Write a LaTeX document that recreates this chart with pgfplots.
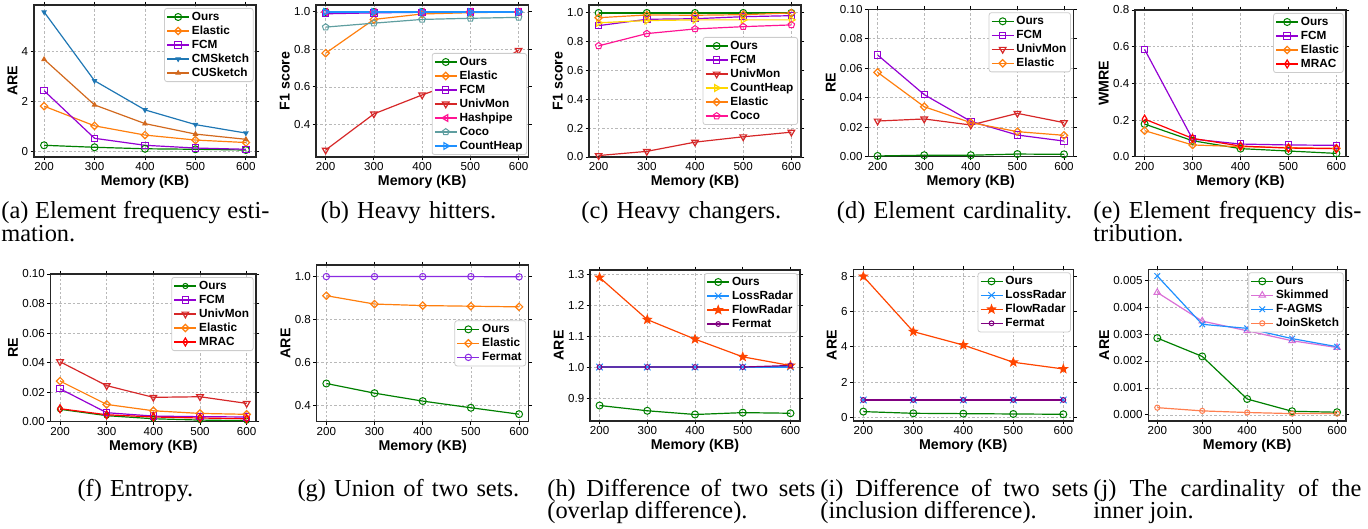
\documentclass[border=0pt]{standalone}
\usepackage{fontspec}
\setmainfont{Liberation Serif}
\setsansfont{Liberation Sans}
\usepackage{pgfplots}
\pgfplotsset{compat=1.18}
\usetikzlibrary{plotmarks}

\definecolor{cOurs}{RGB}{0,128,0}
\definecolor{cElastic}{RGB}{255,127,14}
\definecolor{cFCM}{RGB}{148,0,211}
\definecolor{cUniv}{RGB}{214,39,40}
\definecolor{cCM}{RGB}{31,119,180}
\definecolor{cCU}{RGB}{210,105,30}
\definecolor{cHash}{RGB}{255,20,147}
\definecolor{cCocoB}{RGB}{95,158,160}
\definecolor{cDodger}{RGB}{30,144,255}
\definecolor{cGold}{RGB}{255,215,0}
\definecolor{cMRAC}{RGB}{255,0,0}
\definecolor{cFlow}{RGB}{255,69,0}
\definecolor{cPurple}{RGB}{128,0,128}
\definecolor{cBViolet}{RGB}{138,43,226}
\definecolor{cOrchid}{RGB}{218,112,214}
\definecolor{cCoral}{RGB}{255,127,80}

% filled five-point star
\pgfdeclareplotmark{fstar}{%
  \pgfpathmoveto{\pgfpointpolar{90}{\pgfplotmarksize}}%
  \pgfpathlineto{\pgfpointpolar{126}{0.42\pgfplotmarksize}}%
  \pgfpathlineto{\pgfpointpolar{162}{\pgfplotmarksize}}%
  \pgfpathlineto{\pgfpointpolar{198}{0.42\pgfplotmarksize}}%
  \pgfpathlineto{\pgfpointpolar{234}{\pgfplotmarksize}}%
  \pgfpathlineto{\pgfpointpolar{270}{0.42\pgfplotmarksize}}%
  \pgfpathlineto{\pgfpointpolar{306}{\pgfplotmarksize}}%
  \pgfpathlineto{\pgfpointpolar{342}{0.42\pgfplotmarksize}}%
  \pgfpathlineto{\pgfpointpolar{18}{\pgfplotmarksize}}%
  \pgfpathlineto{\pgfpointpolar{54}{0.42\pgfplotmarksize}}%
  \pgfpathclose\pgfusepathqfillstroke}

\pgfplotsset{
  sub/.style={
    scale only axis,
    axis line style={line width=0.7pt, black!85},
    xmin=180, xmax=620, xtick={200,300,400,500,600},
    grid=major,
    grid style={gray!55, line width=0.35pt, dash pattern=on 1.2pt off 1pt},
    tick align=outside, major tick length=1.7pt,
    tick style={black, line width=0.45pt},
    tick label style={font=\sffamily\fontsize{5.8}{6}\selectfont, inner sep=1pt},
    /pgf/number format/assume math mode=true,
    scaled y ticks=false,
    xlabel={Memory (KB)},
    label style={font=\sffamily\bfseries\fontsize{7.1}{8}\selectfont, inner sep=1pt},
    every axis plot/.append style={line width=0.6pt, mark options={solid, line width=0.5pt, fill=none}},
    legend cell align=left,
    legend image code/.code={\draw[mark repeat=2,mark phase=2] plot coordinates {(0pt,0pt) (5.5pt,0pt) (11pt,0pt)};},
    legend style={draw=black!20, rounded corners=1.2pt, fill=white,
      font=\sffamily\bfseries\fontsize{5.9}{6}\selectfont,
      inner xsep=1pt, inner ysep=0.8pt, row sep=0pt,
      nodes={text height=4.3pt, text depth=1.2pt, inner ysep=0.75pt, inner xsep=1.1pt}},
  },
  ne/.style={legend style={at={(1,1)}, anchor=north east, xshift=-1.2pt, yshift=-1.5pt}},
  sOurs/.style={color=cOurs, mark=o, mark size=1.75pt},
  sElastic/.style={color=cElastic, mark=square, mark size=1.3pt, mark options={rotate=45}},
  sFCM/.style={color=cFCM, mark=square, mark size=1.6pt},
  sUniv/.style={color=cUniv, mark=triangle, mark size=1.9pt, mark options={rotate=180}},
  sMRAC/.style={color=cMRAC, mark=diamond, mark size=2pt, mark options={xscale=0.8}},
  d1/.style={/pgf/number format/.cd, fixed, fixed zerofill, precision=1},
  d2/.style={/pgf/number format/.cd, fixed, fixed zerofill, precision=2},
  d3/.style={/pgf/number format/.cd, fixed, fixed zerofill, precision=3},
}

\begin{document}
\begin{tikzpicture}
\useasboundingbox (0,0) rectangle (684pt,-264.5pt);

% (a)
\begin{axis}[sub, ne, at={(17pt,-78.5pt)}, anchor=south west, width=111pt, height=76pt,
  ymin=-0.24, ymax=5.86, ytick={0,2,4}, ylabel={ARE}]
\addplot[sOurs] coordinates {(200,0.23)(300,0.15)(400,0.09)(500,0.07)(600,0.04)};
\addplot[sElastic] coordinates {(200,1.80)(300,1.01)(400,0.64)(500,0.44)(600,0.34)};
\addplot[sFCM] coordinates {(200,2.42)(300,0.51)(400,0.23)(500,0.12)(600,0.07)};
\addplot[color=cCM, mark=triangle*, mark size=1.1pt, mark options={rotate=180, fill=cCM}] coordinates {(200,5.58)(300,2.82)(400,1.65)(500,1.06)(600,0.72)};
\addplot[color=cCU, mark=triangle*, mark size=1.1pt, mark options={fill=cCU}] coordinates {(200,3.68)(300,1.85)(400,1.10)(500,0.68)(600,0.47)};
\legend{Ours,Elastic,FCM,CMSketch,CUSketch}
\end{axis}

% (b)
\begin{axis}[sub, at={(158pt,-78.5pt)}, anchor=south west, width=106.15pt, height=76pt,
  ymin=0.226, ymax=1.037, ytick={0.4,0.6,0.8,1.0}, yticklabel style={d1}, ylabel={F1 score},
  legend style={at={(1,0)}, anchor=south east, xshift=-0.6pt, yshift=1pt}]
\addplot[sOurs] coordinates {(200,1.0)(300,1.0)(400,1.0)(500,1.0)(600,1.0)};
\addplot[sElastic] coordinates {(200,0.78)(300,0.96)(400,0.989)(500,0.996)(600,1.0)};
\addplot[sFCM] coordinates {(200,0.99)(300,0.995)(400,0.998)(500,0.999)(600,0.999)};
\addplot[sUniv] coordinates {(200,0.263)(300,0.456)(400,0.557)(500,0.65)(600,0.795)};
\addplot[color=cHash, mark=triangle, mark size=1.9pt, mark options={rotate=90}] coordinates {(200,1.0)(300,1.0)(400,1.0)(500,1.0)(600,1.0)};
\addplot[color=cCocoB, mark=pentagon, mark size=1.7pt] coordinates {(200,0.919)(300,0.94)(400,0.96)(500,0.966)(600,0.971)};
\addplot[color=cDodger, mark=triangle, mark size=1.9pt, mark options={rotate=-90}] coordinates {(200,1.0)(300,1.0)(400,1.0)(500,1.0)(600,1.0)};
\legend{Ours,Elastic,FCM,UnivMon,Hashpipe,Coco,CountHeap}
\end{axis}

% (c)
\begin{axis}[sub, at={(294.5pt,-78.5pt)}, anchor=south west, width=106pt, height=76pt,
  ymin=0, ymax=1.053, ytick={0,0.2,0.4,0.6,0.8,1.0}, yticklabel style={d1}, ylabel={F1 score},
  legend style={at={(1,0.5)}, anchor=east, xshift=-1.5pt}]
\addplot[sOurs] coordinates {(200,0.998)(300,0.998)(400,0.998)(500,0.998)(600,0.998)};
\addplot[sFCM] coordinates {(200,0.91)(300,0.954)(400,0.958)(500,0.972)(600,0.979)};
\addplot[sUniv] coordinates {(200,0.01)(300,0.039)(400,0.103)(500,0.14)(600,0.172)};
\addplot[color=cGold, mark=triangle, mark size=1.9pt, mark options={rotate=-90}] coordinates {(200,0.93)(300,0.945)(400,0.95)(500,0.95)(600,0.95)};
\addplot[sElastic] coordinates {(200,0.965)(300,0.984)(400,0.982)(500,0.986)(600,0.998)};
\addplot[color=cHash, mark=pentagon, mark size=1.7pt] coordinates {(200,0.77)(300,0.855)(400,0.887)(500,0.903)(600,0.915)};
\legend{Ours,FCM,UnivMon,CountHeap,Elastic,Coco}
\end{axis}

% (d)
\begin{axis}[sub, ne, at={(434.15pt,-78.35pt)}, anchor=south west, width=102.5pt, height=73.7pt,
  ymin=0, ymax=0.1, ytick={0,0.02,0.04,0.06,0.08,0.10}, yticklabel style={d2}, ylabel={RE}]
\addplot[sOurs] coordinates {(200,0.0005)(300,0.001)(400,0.001)(500,0.0018)(600,0.0016)};
\addplot[sFCM] coordinates {(200,0.069)(300,0.0421)(400,0.024)(500,0.0147)(600,0.0106)};
\addplot[sUniv] coordinates {(200,0.0242)(300,0.0256)(400,0.0215)(500,0.0294)(600,0.0231)};
\addplot[sElastic] coordinates {(200,0.0572)(300,0.0339)(400,0.0231)(500,0.017)(600,0.0145)};
\legend{Ours,FCM,UnivMon,Elastic}
\end{axis}

% (e)
\begin{axis}[sub, ne, at={(567.5pt,-78.35pt)}, anchor=south west, width=105.5pt, height=73.35pt,
  ymin=0, ymax=0.8, ytick={0,0.2,0.4,0.6,0.8}, yticklabel style={d1}, ylabel={WMRE}]
\addplot[sOurs] coordinates {(200,0.178)(300,0.087)(400,0.044)(500,0.031)(600,0.018)};
\addplot[sFCM] coordinates {(200,0.585)(300,0.096)(400,0.069)(500,0.064)(600,0.062)};
\addplot[sElastic] coordinates {(200,0.142)(300,0.064)(400,0.055)(500,0.049)(600,0.045)};
\addplot[sMRAC] coordinates {(200,0.205)(300,0.10)(400,0.058)(500,0.047)(600,0.044)};
\legend{Ours,FCM,Elastic,MRAC}
\end{axis}

% (f)
\begin{axis}[sub, ne, at={(25.35pt,-210.85pt)}, anchor=south west, width=102.65pt, height=73.85pt,
  ymin=0, ymax=0.1, ytick={0,0.02,0.04,0.06,0.08,0.10}, yticklabel style={d2}, ylabel={RE}]
\addplot[sOurs, mark size=1.3pt] coordinates {(200,0.0084)(300,0.0041)(400,0.002)(500,0.0011)(600,0.0007)};
\addplot[sFCM] coordinates {(200,0.0223)(300,0.0061)(400,0.0038)(500,0.0034)(600,0.0032)};
\addplot[sUniv] coordinates {(200,0.0406)(300,0.0244)(400,0.0165)(500,0.0169)(600,0.0124)};
\addplot[sElastic] coordinates {(200,0.0275)(300,0.0117)(400,0.0074)(500,0.0056)(600,0.005)};
\addplot[sMRAC] coordinates {(200,0.0088)(300,0.0047)(400,0.0032)(500,0.0025)(600,0.002)};
\legend{Ours,FCM,UnivMon,Elastic,MRAC}
\end{axis}

% (g)
\begin{axis}[sub, at={(158.35pt,-210.85pt)}, anchor=south west, width=106pt, height=78.35pt,
  ymin=0.324, ymax=1.054, ytick={0.4,0.6,0.8,1.0}, yticklabel style={d1}, ylabel={ARE},
  legend style={at={(1,0.5)}, anchor=east, xshift=-1.3pt}]
\addplot[sOurs] coordinates {(200,0.502)(300,0.457)(400,0.42)(500,0.389)(600,0.359)};
\addplot[sElastic] coordinates {(200,0.911)(300,0.872)(400,0.865)(500,0.862)(600,0.859)};
\addplot[color=cBViolet, mark=o, mark size=1.6pt] coordinates {(200,1.0)(300,1.0)(400,1.0)(500,1.0)(600,0.999)};
\legend{Ours,Elastic,Fermat}
\end{axis}

% (h)
\begin{axis}[sub, ne, at={(295pt,-210.5pt)}, anchor=south west, width=105pt, height=75.5pt,
  ymin=0.826, ymax=1.313, ytick={0.9,1.0,1.1,1.2,1.3}, yticklabel style={d1}, ylabel={ARE}]
\addplot[sOurs] coordinates {(200,0.876)(300,0.859)(400,0.847)(500,0.853)(600,0.851)};
\addplot[color=cDodger, mark=x, mark size=2.3pt] coordinates {(200,1.0)(300,1.0)(400,1.0)(500,1.0)(600,1.0)};
\addplot[color=cFlow, mark=fstar, mark size=2pt, mark options={fill=cFlow}] coordinates {(200,1.289)(300,1.153)(400,1.09)(500,1.033)(600,1.005)};
\addplot[color=cPurple, mark=o, mark size=1.2pt] coordinates {(200,1.0)(300,1.0)(400,1.0)(500,1.0)(600,1.005)};
\legend{Ours,LossRadar,FlowRadar,Fermat}
\end{axis}

% (i)
\begin{axis}[sub, ne, at={(426.65pt,-210.5pt)}, anchor=south west, width=110pt, height=75.85pt,
  ymin=-0.19, ymax=8.38, ytick={0,2,4,6,8}, ylabel={ARE}]
\addplot[sOurs] coordinates {(200,0.34)(300,0.245)(400,0.226)(500,0.207)(600,0.19)};
\addplot[color=cDodger, mark=x, mark size=2.3pt] coordinates {(200,1.0)(300,1.0)(400,1.0)(500,1.0)(600,1.0)};
\addplot[color=cFlow, mark=fstar, mark size=2pt, mark options={fill=cFlow}] coordinates {(200,7.98)(300,4.86)(400,4.1)(500,3.13)(600,2.75)};
\addplot[color=cPurple, mark=o, mark size=1.2pt] coordinates {(200,1.0)(300,1.0)(400,1.0)(500,1.0)(600,1.0)};
\legend{Ours,LossRadar,FlowRadar,Fermat}
\end{axis}

% (j)
\begin{axis}[sub, ne, at={(574.15pt,-210.5pt)}, anchor=south west, width=98.85pt, height=75.85pt,
  ymin=-0.000225, ymax=0.0054, ytick={0,0.001,0.002,0.003,0.004,0.005}, yticklabel style={d3}, ylabel={ARE}]
\addplot[sOurs] coordinates {(200,0.00285)(300,0.00217)(400,0.00059)(500,0.000136)(600,0.0001)};
\addplot[color=cOrchid, mark=triangle, mark size=1.9pt] coordinates {(200,0.00454)(300,0.00348)(400,0.00312)(500,0.00275)(600,0.0025)};
\addplot[color=cDodger, mark=x, mark size=2pt] coordinates {(200,0.00515)(300,0.00336)(400,0.00321)(500,0.00283)(600,0.00253)};
\addplot[color=cCoral, mark=o, mark size=1.3pt] coordinates {(200,0.00027)(300,0.00015)(400,0.00009)(500,0.00005)(600,0.00005)};
\legend{Ours,Skimmed,F-AGMS,JoinSketch}
\end{axis}

% captions
\tikzset{subcap/.style={anchor=base west, inner sep=0pt, text width=134pt, font=\fontsize{12.2}{11.3}\selectfont}}
\node[subcap, align=justify] at (0.5pt,-109.5pt) {(a) Element frequency esti-\linebreak mation.};
\node[subcap, align=center] at (137pt,-109.5pt) {(b) Heavy hitters.};
\node[subcap, align=center] at (273.5pt,-109.5pt) {(c) Heavy changers.};
\node[subcap, align=center] at (410pt,-109.5pt) {(d) Element cardinality.};
\node[subcap, align=justify] at (546.5pt,-109.5pt) {(e) Element frequency dis-\linebreak tribution.};
\node[subcap, align=center] at (0.5pt,-248pt) {(f) Entropy.};
\node[subcap, align=center] at (137pt,-248pt) {(g) Union of two sets.};
\node[subcap, align=justify] at (273.5pt,-248pt) {(h) Difference of two sets\linebreak (overlap difference).};
\node[subcap, align=justify] at (410pt,-248pt) {(i) Difference of two sets\linebreak (inclusion difference).};
\node[subcap, align=justify] at (546.5pt,-248pt) {(j) The cardinality of the\linebreak inner join.};
\end{tikzpicture}
\end{document}
